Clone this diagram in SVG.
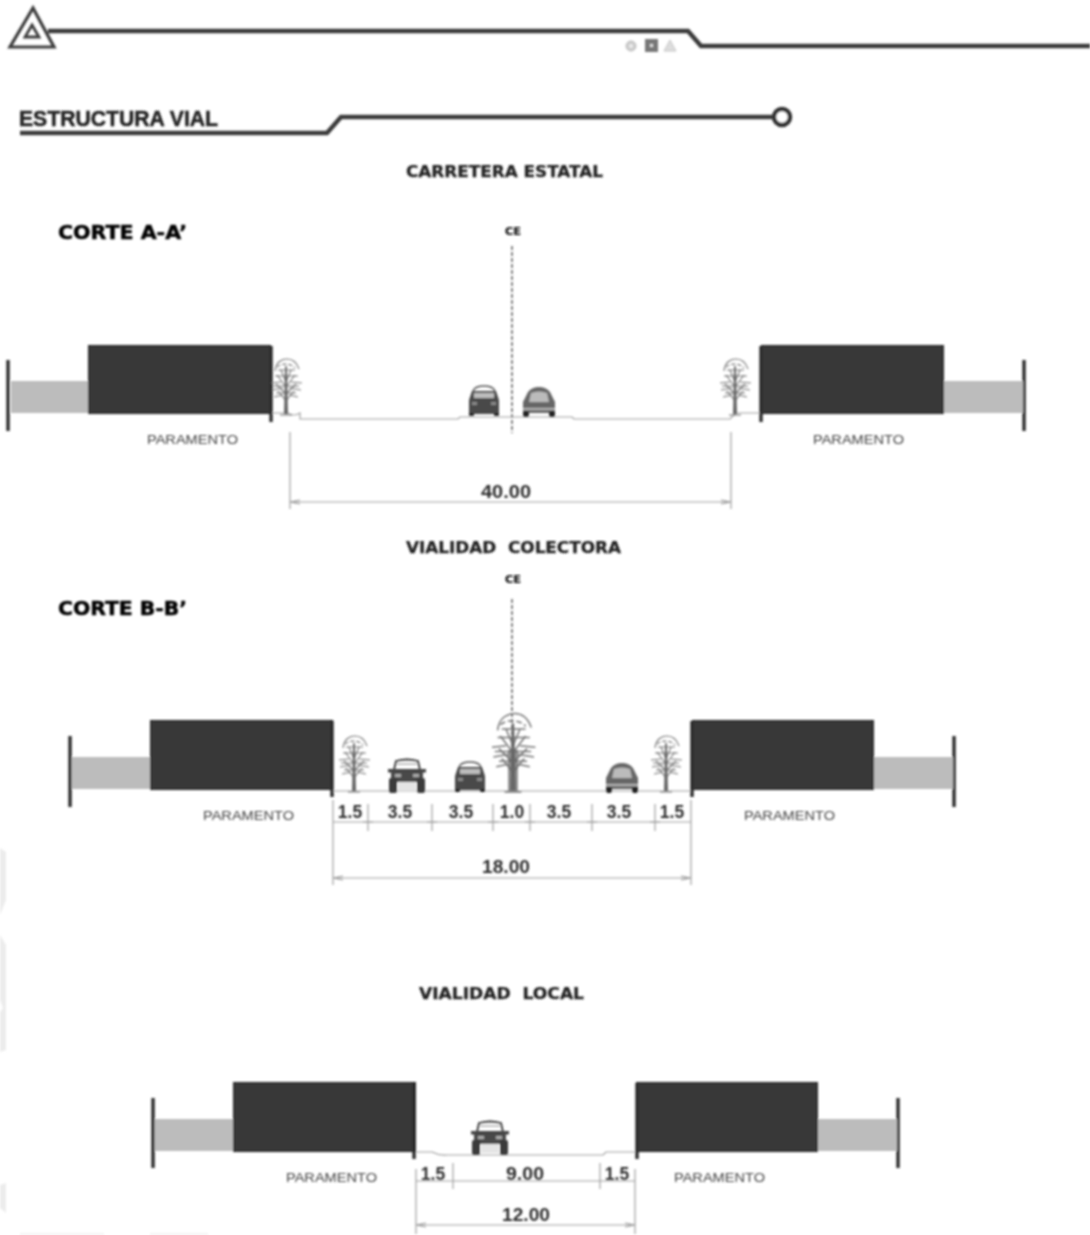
<svg xmlns="http://www.w3.org/2000/svg" xmlns:xlink="http://www.w3.org/1999/xlink" width="1090" height="1235" viewBox="0 0 1090 1235">
<style>
text{font-family:"Liberation Sans",Arial,sans-serif;fill:#333}
.title{font-family:"DejaVu Sans",sans-serif;font-weight:700;font-size:15px;fill:#222;stroke:#222;stroke-width:.25}
.corte{font-family:"DejaVu Sans",sans-serif;font-weight:700;font-size:19px;fill:#000;stroke:#000;stroke-width:.5}
.main{font-size:22px;font-weight:700;fill:#222;stroke:#222;stroke-width:.5}
.par{font-size:13.500px;fill:#444}
.dim{font-size:17.500px;font-weight:700;fill:#2e2e2e}
.ce{font-family:"DejaVu Sans",sans-serif;font-weight:700;font-size:10px;fill:#111;stroke:#111;stroke-width:.2}
.wall{fill:#383838;stroke:#222;stroke-width:1}
.yard{fill:#bcbcbc}
.bar{stroke:#2c2c2c;stroke-width:3.400;fill:none}
.thin{stroke:#a0a0a0;stroke-width:1.200;fill:none}
.head{stroke:#3a3a3a;stroke-width:4.400;fill:none}
.axis{stroke:#444;stroke-width:1.300;stroke-dasharray:4 2;fill:none}
.tree{stroke:#777;stroke-width:1.100;fill:none}
</style>
<defs>
<filter id="soft" x="0" y="0" width="100%" height="100%" filterUnits="userSpaceOnUse"><feGaussianBlur stdDeviation="0.8"/></filter>
<g id="tree">
<path class="tree" d="M-11-19C-10-29-3-31 1-31C7-31 11-27 13-21"/>
<path class="tree" stroke-dasharray="4 2" d="M-9-23C-5-27 5-27 9-22"/>
<path class="tree" d="M-11-14H12M-15-7L-5-8M5-8L16-7M-14 0L-3-2M3-2L15 0M-12 7L-3 5M3 5L12 7M-8-20L9-20M-13-4H13M-10 3H10"/>
<path class="tree" d="M0-3L-9-15M0-3L9-15M0 4L-10-6M0 4L10-6M0 11L-8 1M0 11L8 1M0-8L-5-20M0-8L5-20"/>
<path d="M-.8-24H.8L2 24H-2Z" fill="#666"/>
<path class="tree" d="M-6 25H6"/>
</g>
<g id="sedan">
<path d="M-11-14Q-9-19 0-19Q9-19 11-14" fill="none" stroke="#555" stroke-width="1.400"/>
<path d="M-15-5L-12-14H12L15-5V9H-15Z" fill="#4a4a4a"/>
<rect x="-10" y="-12" width="20" height="5" fill="#bdbdbd"/>
<rect x="-12" y="-3" width="5" height="3" fill="#888"/><rect x="7" y="-3" width="5" height="3" fill="#888"/>
<rect x="-15" y="8" width="5" height="3" fill="#222"/><rect x="10" y="8" width="5" height="3" fill="#222"/>
</g>
<g id="hatch">
<path d="M-16 8V-3L-11-13Q-7-18 0-18Q7-18 11-13L16-3V8Z" fill="#666"/>
<path d="M-10-3L-8-12Q0-15 8-12L10-3Z" fill="#bbb"/>
<path d="M-16 4H16" stroke="#ccc" stroke-width="1.500"/>
<rect x="-16" y="6" width="6" height="6" rx="2" fill="#222"/><rect x="10" y="6" width="6" height="6" rx="2" fill="#222"/>
</g>
<g id="truck">
<path d="M-13-6L-11-15Q0-18 11-15L13-6" fill="none" stroke="#333" stroke-width="1.800"/>
<path d="M-10-12H10" stroke="#888" stroke-width="1"/>
<rect x="-19" y="-7" width="38" height="3.500" fill="#444"/>
<path d="M-16-4H16V6H-16Z" fill="#484848"/>
<rect x="-12" y="-2" width="6" height="3" fill="#aaa"/><rect x="6" y="-2" width="6" height="3" fill="#aaa"/>
<rect x="-9" y="6" width="18" height="9" fill="#e4e4e4"/>
<rect x="-18" y="2" width="8" height="15" rx="2" fill="#3a3a3a"/><rect x="10" y="2" width="8" height="15" rx="2" fill="#3a3a3a"/>
</g>
<g id="tick"><path class="thin" d="M0-18V9M-5 0H5"/></g>
</defs>
<rect width="1090" height="1235" fill="#fff"/>
<g filter="url(#soft)">
<g id="watermark" fill="#ececec">
<path d="M0 848L6 852V900L0 915Z"/><path d="M0 935L6 945V1050L0 1052V1012L3 1008L0 1000Z"/><path d="M0 1185L6 1183V1213L0 1208Z"/>
<path d="M20 1234H104M150 1234H208" stroke="#e6e6e6" stroke-width="1"/>
</g>
<g id="header">
<path d="M33 8L54 47H10Z" fill="none" stroke="#3c3c3c" stroke-width="3.200"/>
<path d="M32 25L39 37H25Z" fill="none" stroke="#3c3c3c" stroke-width="2.800"/>
<path class="head" d="M48 31H688L701 46H1090"/>
<circle cx="631" cy="46" r="5" fill="#ccc" stroke="#bbb"/><circle cx="631" cy="46" r="2" fill="#eee"/>
<rect x="645" y="39" width="13" height="13" fill="#777"/><rect x="650" y="44" width="3" height="3" fill="#ddd"/>
<path d="M670 40L676 51H664Z" fill="#ddd" stroke="#c4c4c4"/>
</g>
<g id="titulo">
<text class="main" x="19" y="126" textLength="199" lengthAdjust="spacingAndGlyphs">ESTRUCTURA VIAL</text>
<path class="head" d="M20 133H327L341 117H773"/>
<circle cx="782" cy="117" r="8" fill="#fff" stroke="#333" stroke-width="4.500"/>
</g>
<text class="title" x="406" y="177" textLength="197" lengthAdjust="spacingAndGlyphs">CARRETERA ESTATAL</text>
<text class="corte" x="58" y="239" textLength="129" lengthAdjust="spacingAndGlyphs">CORTE A-A’</text>
<text class="title" x="406" y="553" textLength="215" lengthAdjust="spacingAndGlyphs" xml:space="preserve">VIALIDAD  COLECTORA</text>
<text class="corte" x="58" y="615" textLength="129" lengthAdjust="spacingAndGlyphs">CORTE B-B’</text>
<text class="title" x="419" y="999" textLength="165" lengthAdjust="spacingAndGlyphs" xml:space="preserve">VIALIDAD  LOCAL</text>

<g id="corte-a">
<text class="ce" x="505" y="235" textLength="16" lengthAdjust="spacingAndGlyphs">CE</text>
<path class="axis" d="M512 246V433"/>
<path class="bar" d="M8 360V431M1024 360V431"/>
<rect class="yard" x="11" y="381" width="77" height="32"/><rect class="yard" x="943" y="381" width="80" height="32"/>
<rect class="wall" x="88.500" y="345.500" width="182" height="68"/><rect class="wall" x="761.500" y="345.500" width="182" height="68"/>
<path class="bar" d="M271 346V422M761 346V422"/>
<path class="thin" d="M272 413H288Q294 417 300 413V419H458L460 417H572L574 419H730L736 413H760"/>
<use xlink:href="#tree" href="#tree" x="286" y="390"/><use xlink:href="#tree" href="#tree" x="735" y="390"/>
<use xlink:href="#sedan" href="#sedan" x="484" y="405"/><use xlink:href="#hatch" href="#hatch" x="539" y="405"/>
<text class="par" x="147" y="444" textLength="91" lengthAdjust="spacingAndGlyphs">PARAMENTO</text>
<text class="par" x="813" y="444" textLength="91" lengthAdjust="spacingAndGlyphs">PARAMENTO</text>
<path class="thin" d="M290 432V509M731 432V509M290 502H731M290 502L300 500M290 502L300 504M731 502L721 500M731 502L721 504"/>
<text class="dim" x="506" y="498" text-anchor="middle" textLength="50" lengthAdjust="spacingAndGlyphs">40.00</text>
</g>

<g id="corte-b">
<text class="ce" x="505" y="583" textLength="16" lengthAdjust="spacingAndGlyphs">CE</text>
<path class="axis" d="M512 599V770"/>
<path class="bar" d="M70 736V807M954 736V807"/>
<rect class="yard" x="72" y="757" width="78" height="32"/><rect class="yard" x="874" y="757" width="79" height="32"/>
<rect class="wall" x="150.500" y="720.500" width="182" height="69"/><rect class="wall" x="692.500" y="720.500" width="181" height="69"/>
<path class="bar" d="M332 721V797M692 721V797"/>
<path class="thin" d="M333 791H691"/>
<use xlink:href="#tree" href="#tree" x="354" y="767"/><use xlink:href="#tree" href="#tree" x="666" y="767"/>
<g transform="translate(513 757) scale(1.400)"><use xlink:href="#tree" href="#tree"/></g>
<path d="M508 750H518V791H508Z" fill="#666" opacity=".7"/>
<use xlink:href="#truck" href="#truck" x="407" y="776"/><use xlink:href="#sedan" href="#sedan" x="470" y="781"/><use xlink:href="#hatch" href="#hatch" x="622" y="781"/>
<text class="par" x="203" y="820" textLength="91" lengthAdjust="spacingAndGlyphs">PARAMENTO</text>
<text class="par" x="744" y="820" textLength="91" lengthAdjust="spacingAndGlyphs">PARAMENTO</text>
<path class="thin" d="M333 822H691"/>
<path class="thin" d="M333 800V885M691 800V885M333 878H691M333 878L343 876M333 878L343 880M691 878L681 876M691 878L681 880"/>
<use xlink:href="#tick" href="#tick" x="368" y="822"/><use xlink:href="#tick" href="#tick" x="432" y="822"/><use xlink:href="#tick" href="#tick" x="493" y="822"/><use xlink:href="#tick" href="#tick" x="530" y="822"/><use xlink:href="#tick" href="#tick" x="592" y="822"/><use xlink:href="#tick" href="#tick" x="655" y="822"/>
<g text-anchor="middle">
<text class="dim" x="350" y="818">1.5</text><text class="dim" x="400" y="818">3.5</text><text class="dim" x="461" y="818">3.5</text><text class="dim" x="512" y="818">1.0</text><text class="dim" x="559" y="818">3.5</text><text class="dim" x="619" y="818">3.5</text><text class="dim" x="672" y="818">1.5</text>
<text class="dim" x="506" y="873" textLength="48" lengthAdjust="spacingAndGlyphs">18.00</text>
</g>
</g>

<g id="corte-c">
<path class="bar" d="M153 1098V1168M898 1098V1168"/>
<rect class="yard" x="155" y="1119" width="78" height="32"/><rect class="yard" x="818" y="1119" width="79" height="32"/>
<rect class="wall" x="233.500" y="1082.500" width="182" height="69"/><rect class="wall" x="636.500" y="1082.500" width="181" height="69"/>
<path class="bar" d="M414 1083V1159M637 1083V1159"/>
<path class="thin" d="M416 1152H432Q440 1156 447 1155H603L606 1152H635"/>
<use xlink:href="#truck" href="#truck" x="490" y="1138"/>
<text class="par" x="286" y="1182" textLength="91" lengthAdjust="spacingAndGlyphs">PARAMENTO</text>
<text class="par" x="674" y="1182" textLength="91" lengthAdjust="spacingAndGlyphs">PARAMENTO</text>
<path class="thin" d="M416 1169V1234M635 1169V1234M416 1181H635M416 1225H635M416 1225L426 1223M416 1225L426 1227M635 1225L625 1223M635 1225L625 1227M453 1163V1189M448 1181H459M600 1163V1189M592 1181H606"/>
<text class="dim" x="433" y="1180" text-anchor="middle">1.5</text><text class="dim" x="525" y="1180" text-anchor="middle" textLength="38" lengthAdjust="spacingAndGlyphs">9.00</text><text class="dim" x="617" y="1180" text-anchor="middle">1.5</text>
<text class="dim" x="526" y="1221" text-anchor="middle" textLength="48" lengthAdjust="spacingAndGlyphs">12.00</text>
</g>
</g>
</svg>
